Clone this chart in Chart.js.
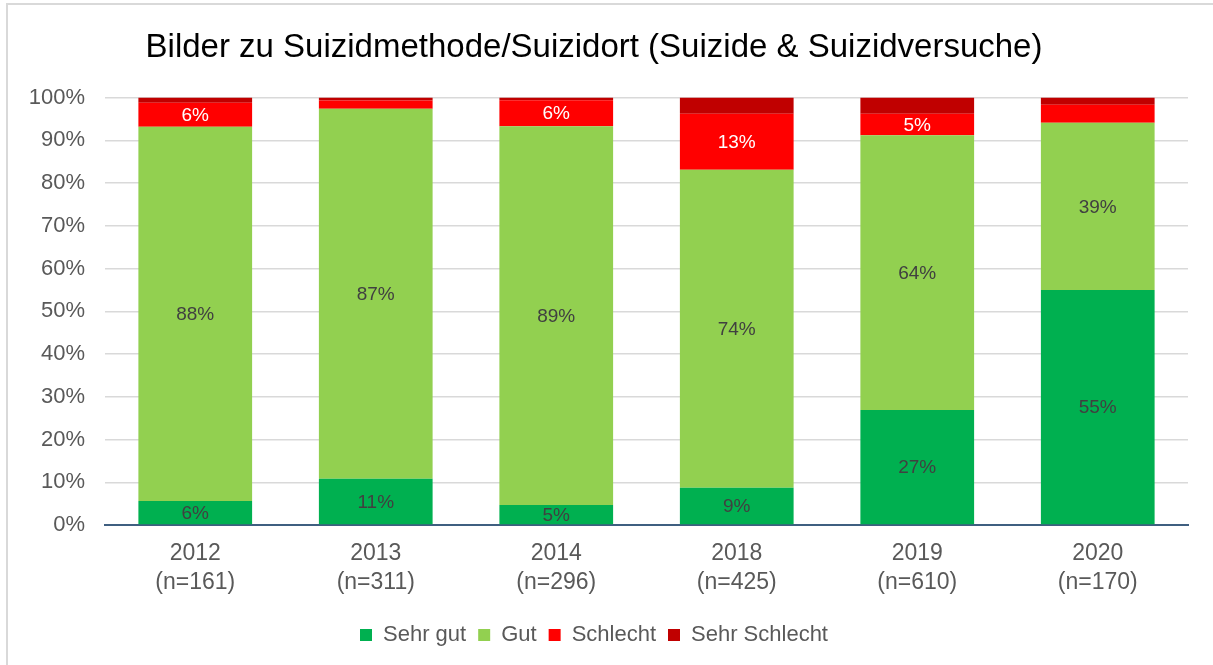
<!DOCTYPE html>
<html>
<head>
<meta charset="utf-8">
<script src="https://cdn.jsdelivr.net/npm/chart.js@4"></script>
<style>
  body { margin: 0; background: #fff; }
  #wrap { position: relative; width: 1213px; height: 665px; overflow: hidden; }
  #rahmen { position: absolute; left: 6px; top: 3px; width: 1300px; height: 700px; border: 2px solid #d9d9d9; }
  #myChart { position: absolute; left: 0; top: 0; }
</style>
</head>
<body>
<div id="wrap">
  <div id="rahmen"></div>
  <canvas id="myChart" width="1213" height="665"></canvas>
</div>
<script>
const jahre = ['2012', '2013', '2014', '2018', '2019', '2020'];
const fallzahl = ['161', '311', '296', '425', '610', '170'];
const sehrGut = [5.6, 10.8, 4.7, 8.7, 26.9, 55.0];
const gut = [87.6, 86.6, 88.6, 74.4, 64.3, 39.1];
const schlecht = [5.6, 1.9, 6.1, 13.1, 5.0, 4.2];
const sehrSchlecht = [1.2, 0.7, 0.6, 3.8, 3.8, 1.7];
const yTicks = [0, 10, 20, 30, 40, 50, 60, 70, 80, 90, 100];

const schrift = "'Liberation Sans', Arial, sans-serif";

// Prozentwerte in die Balken schreiben
const wertePlugin = {
  id: 'werte',
  afterDatasetsDraw(chart) {
    const ctx = chart.ctx;
    ctx.save();
    ctx.font = '19px ' + schrift;
    ctx.textAlign = 'center';
    ctx.textBaseline = 'middle';
    chart.data.datasets.forEach((ds, i) => {
      const meta = chart.getDatasetMeta(i);
      meta.data.forEach((bar, j) => {
        const v = Math.round(ds.data[j]);
        if (v < 5) return;
        ctx.fillStyle = ds.labelColor;
        ctx.fillText(v + '%', bar.x, (bar.y + bar.base) / 2 + 1);
      });
    });
    ctx.restore();
  }
};

new Chart(document.getElementById('myChart'), {
  type: 'bar',
  data: {
    labels: jahre.map((j, i) => [j, '(n=' + fallzahl[i] + ')']),
    datasets: [
      { label: 'Sehr gut', data: sehrGut, backgroundColor: '#00B050', labelColor: '#404040' },
      { label: 'Gut', data: gut, backgroundColor: '#92D050', labelColor: '#404040' },
      { label: 'Schlecht', data: schlecht, backgroundColor: '#FF0000', labelColor: '#ffffff' },
      { label: 'Sehr Schlecht', data: sehrSchlecht, backgroundColor: '#C00000', labelColor: '#ffffff' }
    ]
  },
  options: {
    responsive: false,
    animation: false,
    categoryPercentage: 1,
    barPercentage: 0.63,
    layout: { padding: { left: 0, right: 25, top: 0, bottom: 9 } },
    plugins: {
      title: {
        display: true,
        text: 'Bilder zu Suizidmethode/Suizidort (Suizide & Suizidversuche)',
        color: '#000000',
        font: { family: schrift, size: 33, weight: 'normal' },
        padding: { top: 28, bottom: 30 }
      },
      legend: {
        position: 'bottom',
        labels: {
          color: '#595959',
          font: { family: schrift, size: 22 },
          boxWidth: 12,
          boxHeight: 12,
          padding: 12
        }
      },
      tooltip: { enabled: false }
    },
    scales: {
      x: {
        stacked: true,
        grid: { display: false, drawTicks: false },
        border: { color: '#3f5f80', width: 2 },
        ticks: {
          color: '#595959',
          font: { family: schrift, size: 23, lineHeight: 1.27 },
          padding: 14,
          maxRotation: 0
        },
        afterFit(axis) { axis.height = 87; }
      },
      y: {
        stacked: true,
        min: 0,
        max: 100,
        afterBuildTicks(axis) { axis.ticks = yTicks.map(v => ({ value: v })); },
        grid: { color: '#d9d9d9', lineWidth: 1.5, drawTicks: false },
        border: { display: false },
        ticks: {
          color: '#595959',
          font: { family: schrift, size: 22 },
          padding: 20,
          callback: v => v + '%'
        },
        afterFit(axis) { axis.width = 105; }
      }
    }
  },
  plugins: [wertePlugin]
});
</script>
</body>
</html>
